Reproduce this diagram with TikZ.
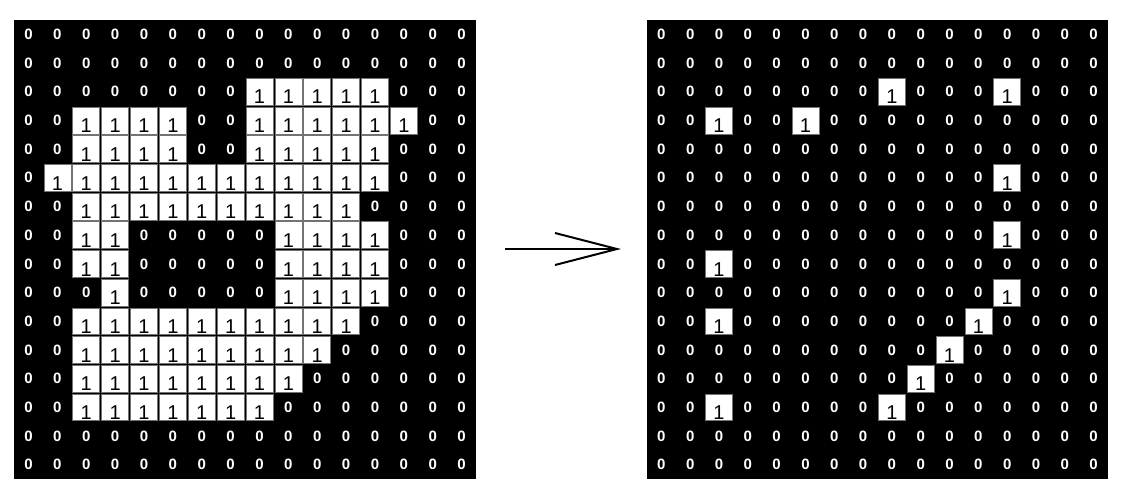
\documentclass[tikz,border=0pt]{standalone}
\usepackage{fontspec}
\setmainfont{Liberation Sans}
\usetikzlibrary{arrows.meta}

\tikzset{
  zerocell/.style={text=white, inner sep=0pt, font=\fontsize{15}{15}\selectfont\bfseries},
  onecell/.style={fill=white, draw=black!55, line width=0.6pt, minimum width=27pt,
    minimum height=26.8pt, inner xsep=0.4pt, inner ysep=1.2pt, text height=24.4pt,
    text depth=0pt, font=\fontsize{20}{20}\selectfont},
}

\begin{document}
\begin{tikzpicture}[x=1pt,y=-1pt]
        \useasboundingbox (0,0) rectangle (1126,496);

        % Black backgrounds of both images
        \fill[black] (14,20) rectangle (476,479);
        \fill[black] (647,20) rectangle (1108,479);

        % Left image: runs of ones (row/first/last)
        \foreach \r/\a/\b in {
            2/8/12, 3/2/5, 3/8/13, 4/2/5, 4/8/12, 5/1/12, 6/2/11,
            7/2/3, 7/9/12, 8/2/3, 8/9/12, 9/3/3, 9/9/12,
            10/2/11, 11/2/10, 12/2/9, 13/2/8} {
            \foreach \c in {\a,...,\b} {
                \expandafter\xdef\csname one@L@\r @\c\endcsname{1}
            }
        }

        % Right image: the corner points (row/column)
        \foreach \r/\c in {
            2/8, 2/12, 3/2, 3/5, 5/12, 7/12, 8/2, 9/12,
            10/2, 10/11, 11/10, 12/9, 13/2, 13/8} {
            \expandafter\xdef\csname one@R@\r @\c\endcsname{1}
        }

        % Both grids of cells
        \foreach \side/\x/\w in {L/14/28.875, R/647/28.8125} {
            \foreach \r in {0,...,15} {
                \foreach \c in {0,...,15} {
                    \ifcsname one@\side @\r @\c\endcsname
                        \node[onecell] (\side-\r-\c) at ({\x+\w*(\c+0.5)},{20+28.69*(\r+0.5)}) {1};
                    \else
                        \node[zerocell] (\side-\r-\c) at ({\x+\w*(\c+0.5)},{20+28.69*(\r+0.5)}) {0};
                    \fi
                }
            }
        }

        % Arrow between the images
        \coordinate (arrow-start) at (505,249);
        \coordinate (arrow-end) at (621,249);
        \draw[line width=2.4pt, -{Straight Barb[length=62pt,width=32pt,line width=2pt]}] (arrow-start) -- (arrow-end);
    \end{tikzpicture}
\end{document}
